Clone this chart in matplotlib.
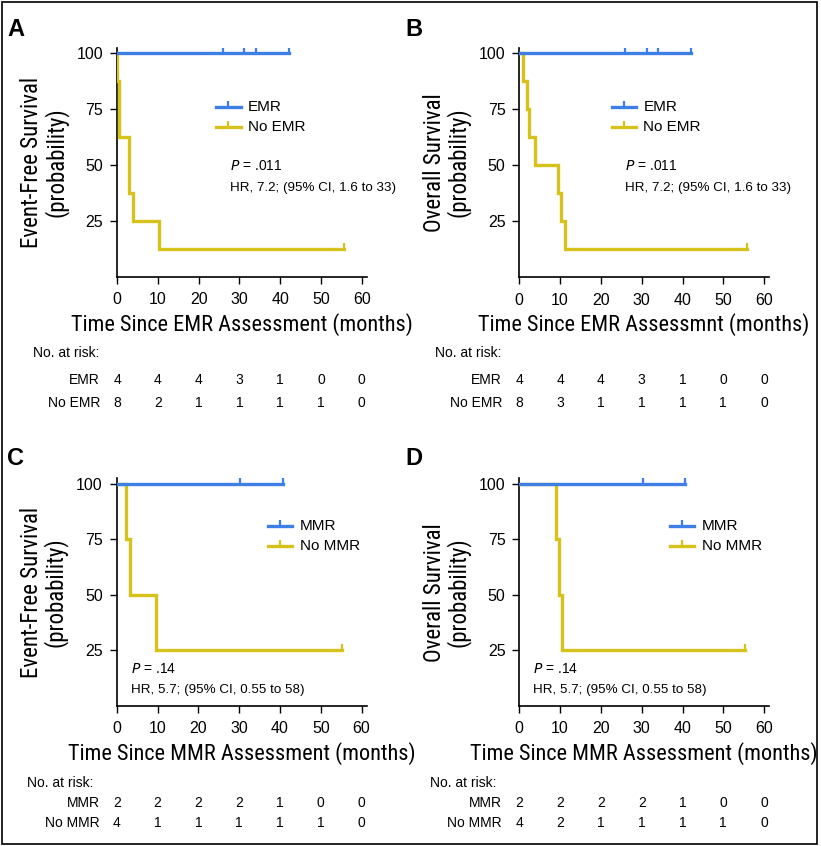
import matplotlib
matplotlib.use("Agg")
import matplotlib.pyplot as plt
from matplotlib.path import Path
from matplotlib import font_manager

# ---------------- data ----------------
x_ticks = [0, 10, 20, 30, 40, 50, 60]
y_ticks = [25, 50, 75, 100]

# Panel A: event-free survival by EMR
a_emr_t = [0, 42.2]
a_emr_s = [100, 100]
a_emr_cens_t = [25.9, 31.2, 34.0, 42.2]
a_no_t = [0, 0.1, 0.5, 3.0, 4.0, 10.2, 55.7]
a_no_s = [100, 87.5, 62.5, 37.5, 25, 12.5, 12.5]
a_no_cens_t = [55.7]
a_no_cens_s = [12.5]

# Panel B: overall survival by EMR
b_emr_t = [0, 42.1]
b_emr_s = [100, 100]
b_emr_cens_t = [25.9, 31.2, 33.9, 42.1]
b_no_t = [0, 1.0, 1.8, 2.3, 3.85, 9.6, 10.1, 11.3, 55.7]
b_no_s = [100, 87.5, 75, 62.5, 50, 37.5, 25, 12.5, 12.5]
b_no_cens_t = [55.7]
b_no_cens_s = [12.5]

# Panel C: event-free survival by MMR
c_mmr_t = [0, 40.8]
c_mmr_s = [100, 100]
c_mmr_cens_t = [30.2, 40.8]
c_no_t = [0, 2.2, 3.2, 9.6, 55.1]
c_no_s = [100, 75, 50, 25, 25]
c_no_cens_t = [55.1]
c_no_cens_s = [25]

# Panel D: overall survival by MMR
d_mmr_t = [0, 40.7]
d_mmr_s = [100, 100]
d_mmr_cens_t = [30.2, 40.7]
d_no_t = [0, 8.9, 9.65, 10.4, 55.3]
d_no_s = [100, 75, 50, 25, 25]
d_no_cens_t = [55.3]
d_no_cens_s = [25]

risk_a = {"EMR": [4, 4, 4, 3, 1, 0, 0], "No EMR": [8, 2, 1, 1, 1, 1, 0]}
risk_b = {"EMR": [4, 4, 4, 3, 1, 0, 0], "No EMR": [8, 3, 1, 1, 1, 1, 0]}
risk_c = {"MMR": [2, 2, 2, 2, 1, 0, 0], "No MMR": [4, 1, 1, 1, 1, 1, 0]}
risk_d = {"MMR": [2, 2, 2, 2, 1, 0, 0], "No MMR": [4, 2, 1, 1, 1, 1, 0]}

# ---------------- style ----------------
BLUE = "#3D7FE4"
YELLOW = "#D6C21B"
LW = 2.4

names = {f.name for f in font_manager.fontManager.ttflist}
NARROW = "Roboto Condensed" if "Roboto Condensed" in names else "DejaVu Sans"
SANS = "Liberation Sans" if "Liberation Sans" in names else "DejaVu Sans"
plt.rcParams["font.family"] = [SANS, "DejaVu Sans"]

cens = Path([(0, 0), (0, 1)], [Path.MOVETO, Path.LINETO])

fig = plt.figure(figsize=(8.21, 8.46), dpi=100)
W, H = 821, 846


def px_axes(left, top_px, right, bottom_px):
    return fig.add_axes([left / W, 1 - bottom_px / H, (right - left) / W, (bottom_px - top_px) / H])


def panel(ax, t1, s1, c1, t2, s2, c2t, c2s, lab1, lab2, ylabel, xlabel,
          leg_xy, p_xy, hr_xy, p_txt, hr_txt):
    ax.step(t2, s2, where="post", color=YELLOW, lw=LW, solid_joinstyle="miter", zorder=3)
    ax.plot(c2t, c2s, ls="none", marker=cens, ms=9, mew=1.6, color=YELLOW, zorder=3)
    ax.step(t1, s1, where="post", color=BLUE, lw=LW, zorder=4)
    ax.plot(c1, [100] * len(c1), ls="none", marker=cens, ms=9, mew=1.6, color=BLUE, zorder=4)
    ax.set_xlim(0, 61.2)
    ax.set_ylim(0, 102.4)
    ax.set_xticks(x_ticks)
    ax.set_yticks(y_ticks)
    ax.tick_params(direction="out", length=5, width=1, labelsize=11.5)
    ax.tick_params(axis="x", pad=6)
    ax.tick_params(axis="y", pad=5)
    for s in ("top", "right"):
        ax.spines[s].set_visible(False)
    for s in ("left", "bottom"):
        ax.spines[s].set_linewidth(1.2)
    ax.set_ylabel(ylabel, fontsize=16.5, family=NARROW, linespacing=1.0, labelpad=6)
    ax.set_xlabel(xlabel, fontsize=16, family=NARROW, labelpad=4)
    # legend (manual)
    lx, ly = leg_xy
    for lab, col, dy in ((lab1, BLUE, 0), (lab2, YELLOW, -9)):
        ax.plot([lx, lx + 6], [ly + dy, ly + dy], color=col, lw=LW, clip_on=False)
        ax.plot([lx + 3], [ly + dy], marker=cens, ms=9, mew=1.6, color=col, ls="none", clip_on=False)
        ax.text(lx + 7.8, ly + dy, lab, fontsize=11, va="center", ha="left")
    ax.text(p_xy[0], p_xy[1], p_txt, fontsize=10, va="center", ha="left")
    ax.text(hr_xy[0], hr_xy[1], hr_txt, fontsize=9.6, va="center", ha="left")


def risk_table(ax, risk, y_rows_px, label_right_px):
    for (lab, vals), ypx in zip(risk.items(), y_rows_px):
        yf = 1 - ypx / H
        fig.text(label_right_px / W, yf, lab, fontsize=10, ha="right", va="center")
        for xt, v in zip(x_ticks, vals):
            xd = ax.transData.transform((xt, 0))[0]
            xf = fig.transFigure.inverted().transform((xd, 0))[0]
            fig.text(xf, yf, str(v), fontsize=10, ha="center", va="center")


axA = px_axes(117, 47.7, 366.7, 277)
axB = px_axes(519.3, 48, 769, 277.3)
axC = px_axes(116.7, 478.3, 366.5, 706)
axD = px_axes(519.3, 478.3, 769, 706)

panel(axA, a_emr_t, a_emr_s, a_emr_cens_t, a_no_t, a_no_s, a_no_cens_t, a_no_cens_s,
      "EMR", "No EMR", "Event-Free Survival\n(probability)", "Time Since EMR Assessment (months)",
      (24.3, 76), (27.7, 49.7), (27.7, 39.7), r"$\it{P}$ = .011", "HR, 7.2; (95% CI, 1.6 to 33)")
panel(axB, b_emr_t, b_emr_s, b_emr_cens_t, b_no_t, b_no_s, b_no_cens_t, b_no_cens_s,
      "EMR", "No EMR", "Overall Survival\n(probability)", "Time Since EMR Assessmnt (months)",
      (22.6, 76), (25.9, 49.7), (25.9, 39.7), r"$\it{P}$ = .011", "HR, 7.2; (95% CI, 1.6 to 33)")
panel(axC, c_mmr_t, c_mmr_s, c_mmr_cens_t, c_no_t, c_no_s, c_no_cens_t, c_no_cens_s,
      "MMR", "No MMR", "Event-Free Survival\n(probability)", "Time Since MMR Assessment (months)",
      (37.0, 81), (3.4, 16.8), (3.4, 7.4), r"$\it{P}$ = .14", "HR, 5.7; (95% CI, 0.55 to 58)")
panel(axD, d_mmr_t, d_mmr_s, d_mmr_cens_t, d_no_t, d_no_s, d_no_cens_t, d_no_cens_s,
      "MMR", "No MMR", "Overall Survival\n(probability)", "Time Since MMR Assessment (months)",
      (36.9, 81), (3.3, 16.8), (3.3, 7.4), r"$\it{P}$ = .14", "HR, 5.7; (95% CI, 0.55 to 58)")

# risk tables
fig.text(33 / W, 1 - 353 / H, "No. at risk:", fontsize=10, ha="left", va="center")
risk_table(axA, risk_a, [380, 403], 100)
fig.text(435 / W, 1 - 353 / H, "No. at risk:", fontsize=10, ha="left", va="center")
risk_table(axB, risk_b, [380, 403], 502)
fig.text(27 / W, 1 - 783 / H, "No. at risk:", fontsize=10, ha="left", va="center")
risk_table(axC, risk_c, [803, 823], 100)
fig.text(430 / W, 1 - 783 / H, "No. at risk:", fontsize=10, ha="left", va="center")
risk_table(axD, risk_d, [803, 823], 502)

# panel letters
for lab, x, y in (("A", 7, 29), ("B", 405, 29), ("C", 7, 458), ("D", 405, 458)):
    fig.text(x / W, 1 - y / H, lab, fontsize=17, fontweight="bold", ha="left", va="center")

# frame
fig.patches.append(plt.Rectangle((2 / W, 2 / H), 815 / W, 842 / H, transform=fig.transFigure,
                                 fill=False, ec="black", lw=1.2))

fig.savefig("out.png", dpi=100)
